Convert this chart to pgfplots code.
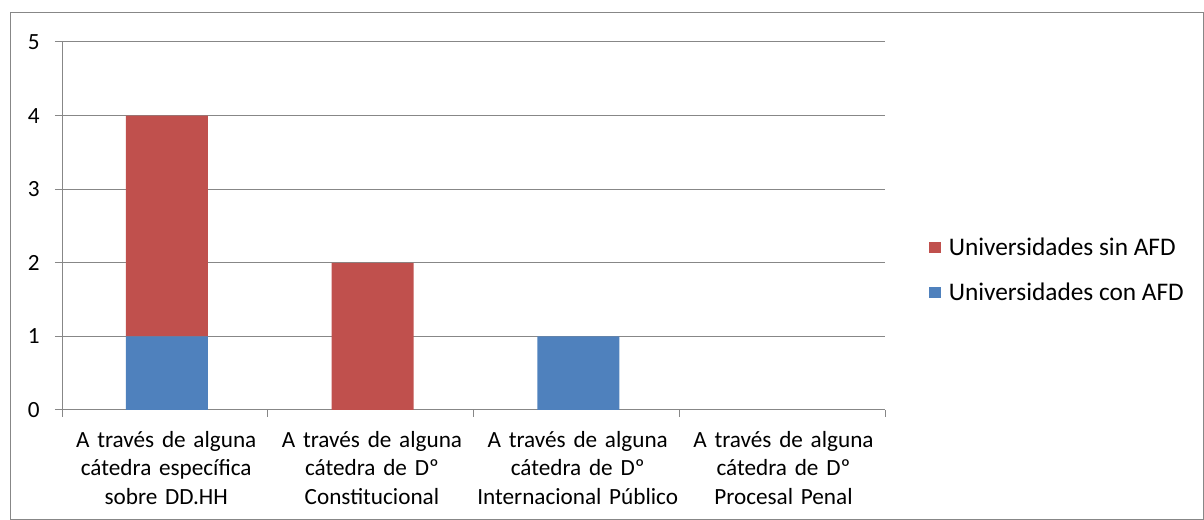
\documentclass[border=0pt]{standalone}
\usepackage{pgfplots}
\pgfplotsset{compat=1.18}
\usepackage{fontspec}
\setmainfont{Carlito}
\definecolor{cred}{HTML}{C0504D}
\definecolor{cblue}{HTML}{4F81BD}
\definecolor{cgray}{HTML}{878787}
\newcommand{\lblfont}{\fontsize{17.4}{21.6}\selectfont}
\newcommand{\legfont}{\fontsize{19}{23}\selectfont}
\begin{document}
\begin{tikzpicture}[x=0.75pt,y=0.75pt]
\useasboundingbox (0,0) rectangle (1204,520);
\draw[cgray, line width=0.75pt] (10.5,0) rectangle (1203.5,507);
\begin{axis}[
  at={(46.5pt,82.5pt)}, anchor=south west,
  scale only axis, width=617.25pt, height=276pt,
  ybar stacked, bar width=61.5pt,
  xmin=-0.5, xmax=3.5, ymin=0, ymax=5,
  ytick={0,1,2,3,4,5},
  xtick={0,1,2,3},
  xticklabels={{A través de alguna\\cátedra específica\\sobre DD.HH},
               {A través de alguna\\cátedra de Dº\\Constitucional},
               {A través de alguna\\cátedra de Dº\\Internacional Público},
               {A través de alguna\\cátedra de Dº\\Procesal Penal}},
  x tick label style={align=center, text width=152pt, font=\lblfont, yshift=-7pt, xshift=1pt},
  y tick label style={font=\lblfont, xshift=-8pt},
  /pgf/number format/assume math mode=true,
  major x tick style={draw=none},
  minor xtick={-0.5,0.5,1.5,2.5,3.5},
  minor x tick style={cgray, line width=0.75pt},
  major y tick style={cgray, line width=0.75pt},
  tick align=outside,
  major tick length=5.25pt, minor tick length=5.25pt,
  axis x line*=bottom, axis y line*=left,
  axis line style={cgray, line width=0.75pt},
  ymajorgrids, grid style={cgray, line width=0.75pt},
  reverse legend,
  legend style={at={(1.0535,0.38)}, anchor=west, draw=none, font=\legfont,
     row sep=15pt, inner sep=0pt, /tikz/every odd column/.append style={column sep=4pt}},
  legend cell align=left,
]
\addplot[fill=cblue, draw=none, bar shift=1.5pt,
  legend image code/.code={\fill[cblue] (0pt,-4.3pt) rectangle (8.6pt,4.3pt);}]
  coordinates {(0,1) (1,0) (2,1) (3,0)};
\addplot[fill=cred, draw=none, bar shift=1.5pt,
  legend image code/.code={\fill[cred] (0pt,-4.3pt) rectangle (8.6pt,4.3pt);}]
  coordinates {(0,3) (1,2) (2,0) (3,0)};
\legend{Universidades con AFD, Universidades sin AFD}
\end{axis}
\end{tikzpicture}
\end{document}
